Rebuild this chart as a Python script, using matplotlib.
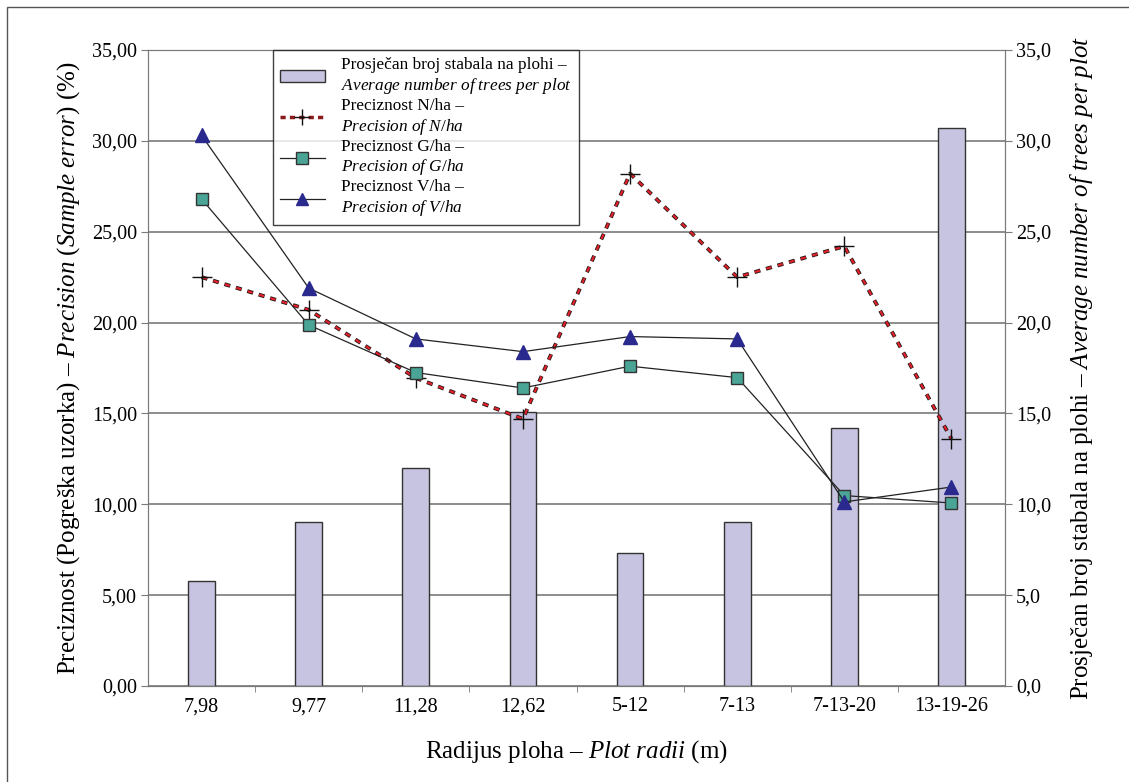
import matplotlib.pyplot as plt
from matplotlib.lines import Line2D
from matplotlib.patches import Patch, Rectangle
from matplotlib.ticker import FuncFormatter
import numpy as np

plt.rcParams['font.family'] = ['Liberation Serif', 'DejaVu Serif']
plt.rcParams['mathtext.fontset'] = 'custom'
plt.rcParams['mathtext.rm'] = 'Liberation Serif'
plt.rcParams['mathtext.it'] = 'Liberation Serif:style=italic'

# data
radii = ['7,98', '9,77', '11,28', '12,62', '5-12', '7-13', '7-13-20', '13-19-26']
trees = [5.8, 9.0, 12.0, 15.1, 7.3, 9.0, 14.2, 30.7]
prec_n = [22.5, 20.7, 16.95, 14.7, 28.2, 22.5, 24.2, 13.6]
prec_g = [26.8, 19.87, 17.25, 16.4, 17.6, 16.97, 10.48, 10.07]
prec_v = [30.3, 21.9, 19.1, 18.4, 19.23, 19.1, 10.13, 10.95]

x = np.arange(len(radii))

fig = plt.figure(figsize=(11.29, 7.82), dpi=100)
ax = fig.add_axes([148/1129, 1-686/782, 857/1129, 636/782])
ax2 = ax.twinx()

# outer frame
fig.patches.append(Rectangle((7/1129, -0.01), 1.2, 1-7/782+0.01, transform=fig.transFigure,
                             fill=False, edgecolor='#555555', lw=1.0))

grey = '#7a7a7a'

# bars on right axis, behind lines
ax2.set_axisbelow(True)
ax2.grid(axis='y', color=grey, lw=1.2)
bars = ax2.bar(x, trees, width=0.25, color='#c6c4e0', edgecolor='#333333', lw=1.0)
ax.set_zorder(ax2.get_zorder() + 1)
ax.patch.set_visible(False)

# lines on left axis (red dashes with dark outline)
blw, rlw = 2.8, 1.5
bd, bg = 4.4, 4.2
ax.plot(x, prec_n, ls=(0, (bd / blw, bg / blw)), color='#2a1a1a', lw=blw,
        dash_capstyle='butt', zorder=3)
ax.plot(x, prec_n, ls=((bd + bg - 0.35) / rlw, ((bd - 0.7) / rlw, (bg + 0.7) / rlw)),
        color='#e8202a', lw=rlw, dash_capstyle='butt', zorder=3)
ax.plot(x, prec_n, ls='none', marker='+', ms=15, mew=1.0, color='#111111', zorder=4)
ax.plot(x, prec_g, color='#222222', lw=0.9, marker='s', ms=8.5, mfc='#4aa596',
        mec='#333333', mew=1.0, zorder=5)
ax.plot(x, prec_v, color='#222222', lw=0.9, marker='^', ms=10, mfc='#2a2a8e',
        mec='#2a2a8e', zorder=6)

for a in (ax, ax2):
    a.set_ylim(0, 35)
    a.set_yticks(np.arange(0, 36, 5))
    for s in a.spines.values():
        s.set_color(grey)
ax.set_xlim(-0.5, len(radii) - 0.5)
ax.set_xticks(x)
ax.set_xticklabels(radii)
ax.set_xticks(np.arange(0.5, len(radii) - 0.5, 1), minor=True)
ax.tick_params(axis='x', which='major', length=0, labelsize=14.5, pad=8)
ax.tick_params(axis='x', which='minor', length=4, color=grey)
ax.tick_params(axis='y', length=5, color=grey, labelsize=14.5, pad=3)
ax2.tick_params(axis='y', length=5, color=grey, labelsize=14.5, pad=3)
ax.yaxis.set_major_formatter(FuncFormatter(lambda v, p: f'{v:.2f}'.replace('.', ',')))
ax2.yaxis.set_major_formatter(FuncFormatter(lambda v, p: f'{v:.1f}'.replace('.', ',')))

ax.set_ylabel(r'Preciznost (Pogreška uzorka) – $\mathit{Precision\ (Sample\ error)}$ (%)',
              fontsize=18, labelpad=7)
ax2.set_ylabel(r'Prosječan broj stabala na plohi – $\mathit{Average\ number\ of\ trees\ per\ plot}$',
               fontsize=18, labelpad=12)
ax.set_xlabel(r'Radijus ploha – $\mathit{Plot\ radii}$ (m)', fontsize=18, labelpad=16)

handles = [
    Patch(facecolor='#c6c4e0', edgecolor='#333333'),
    Line2D([], [], ls=(0, (1.5, 1.2)), color='#8b1a1a', lw=2.5, marker='+', ms=12,
           mec='#111111', mew=1.0),
    Line2D([], [], color='#222222', lw=0.9, marker='s', ms=8.5, mfc='#4aa596', mec='#333333'),
    Line2D([], [], color='#222222', lw=0.9, marker='^', ms=9, mfc='#2a2a8e', mec='#2a2a8e'),
]
labels = [
    'Prosječan broj stabala na plohi –\n' + r'$\mathit{Average\ number\ of\ trees\ per\ plot}$',
    'Preciznost N/ha –\n' + r'$\mathit{Precision\ of\ N/ha}$',
    'Preciznost G/ha –\n' + r'$\mathit{Precision\ of\ G/ha}$',
    'Preciznost V/ha –\n' + r'$\mathit{Precision\ of\ V/ha}$',
]
leg = ax.legend(handles, labels, loc='upper left', bbox_to_anchor=(0.146, 1.0),
                fontsize=12.4, frameon=True, fancybox=False, borderaxespad=0,
                handlelength=2.6, labelspacing=0.12, borderpad=0.4, handletextpad=0.95)
leg.get_frame().set_edgecolor('#111111')
leg.get_frame().set_linewidth(1.0)
leg.set_zorder(10)

fig.savefig('out.png', dpi=100)
